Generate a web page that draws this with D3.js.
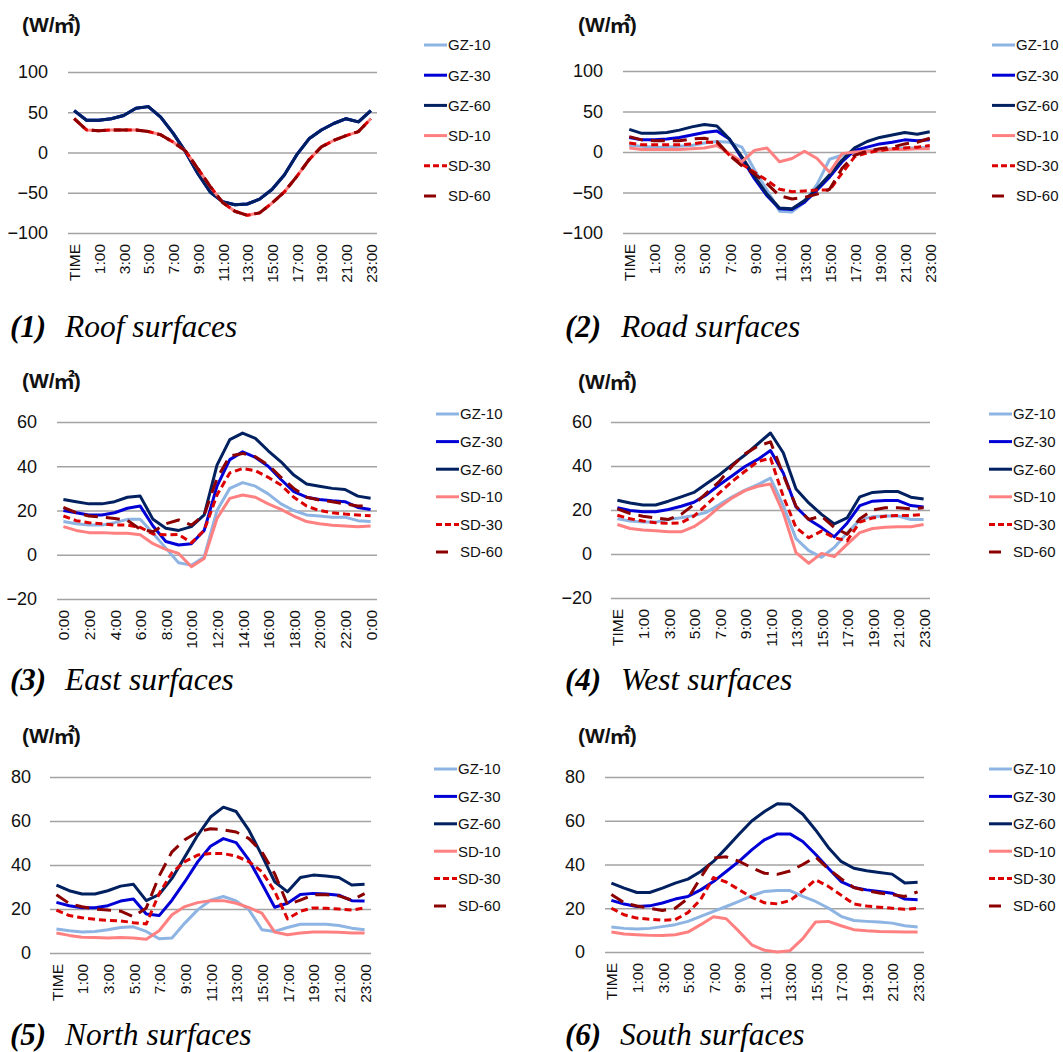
<!DOCTYPE html>
<html>
<head>
<meta charset="utf-8">
<script src="https://cdn.jsdelivr.net/npm/d3@7/dist/d3.min.js"></script>
<style>
  body { margin: 0; background: #fff; }
  svg { display: block; }
</style>
</head>
<body>
<div id="chart"></div>
<script>
// series names, in the order Excel drew them (later ones on top)
const seriesNames = ["GZ-10", "GZ-30", "GZ-60", "SD-10", "SD-30", "SD-60"];

// category labels (25 points, every other one is shown)
const hourLabels = ["TIME", "0:00", "1:00", "2:00", "3:00", "4:00", "5:00", "6:00", "7:00", "8:00",
  "9:00", "10:00", "11:00", "12:00", "13:00", "14:00", "15:00", "16:00", "17:00", "18:00",
  "19:00", "20:00", "21:00", "22:00", "23:00"];
const eastHourLabels = ["0:00", "1:00", "2:00", "3:00", "4:00", "5:00", "6:00", "7:00", "8:00", "9:00",
  "10:00", "11:00", "12:00", "13:00", "14:00", "15:00", "16:00", "17:00", "18:00", "19:00",
  "20:00", "21:00", "22:00", "23:00", "0:00"];

// (1) roof: the three GZ series coincide, as do the three SD series
const roofGZ = [52, 40, 40, 42, 46, 55, 57, 44, 24, 1, -26, -49, -61, -65, -64, -58, -46, -28, -3, 17, 28, 36, 42, 38, 52];
const roofSD = [42, 28, 27, 28, 28, 28, 26, 22, 13, 2, -20, -42, -62, -73, -78, -75, -63, -49, -30, -9, 7, 15, 21, 26, 42];

// (2) road
const roadGZ10 = [8, 7, 6, 6, 7, 8, 11, 13, 12, 6, -22, -47, -73, -74, -62, -40, -9, -4, -1, 2, 3, 4, 5, 5, 6];
const roadGZ30 = [18, 15, 15, 16, 18, 21, 24, 26, 16, -8, -33, -54, -70, -71, -62, -47, -31, -12, 2, 6, 10, 12, 15, 14, 15];
const roadGZ60 = [28, 23, 23, 24, 27, 31, 34, 32, 16, -6, -30, -52, -69, -70, -60, -45, -28, -10, 5, 13, 18, 21, 24, 22, 25];
const roadSD10 = [5, 3, 3, 3, 3, 4, 5, 8, -2, -12, 2, 5, -12, -8, 1, -8, -25, -2, 0, 1, 2, 3, 3, 4, 4];
const roadSD30 = [11, 9, 9, 9, 9, 10, 12, 12, -4, -15, -25, -35, -46, -49, -48, -47, -47, -26, -6, -1, 2, 4, 5, 6, 8];
const roadSD60 = [19, 15, 14, 14, 14, 16, 17, 13, -4, -17, -27, -39, -54, -58, -56, -52, -46, -20, -4, 1, 4, 6, 10, 12, 17];

// (3) east
const eastGZ10 = [15, 14, 13.4, 13.4, 14.5, 16, 16, 9.7, 3, -3.6, -4.7, -1, 20, 30, 32.6, 31, 27.5, 23, 20, 18, 17.5, 17, 17, 15.4, 15];
const eastGZ30 = [20, 19, 18, 18, 19, 21, 22, 13, 6, 4.4, 5, 11, 31, 43, 46.5, 44, 40, 34, 28.5, 26, 25, 24.4, 24, 21.4, 20.5];
const eastGZ60 = [25, 24, 23, 23, 24, 26, 26.5, 16, 12, 11, 12.7, 18, 40.5, 52, 55, 52.6, 47, 42, 36, 32, 31, 30, 29.5, 26.5, 25.5];
const eastSD10 = [12.7, 11, 10, 10, 9.7, 9.7, 9, 5, 2.4, 0.6, -5.4, -1.7, 16.4, 25.5, 27, 26, 23, 20.5, 17.5, 15, 14, 13.3, 13, 12.7, 13];
const eastSD30 = [17.5, 15.4, 14.5, 14, 13.4, 13.4, 12.4, 9.4, 9, 9.2, 5.4, 11, 27, 37, 39, 38, 35, 31.5, 26, 22, 20, 19, 18.4, 18, 17.6];
const eastSD60 = [21.4, 19, 17.5, 17, 16.4, 15.5, 11.5, 10.4, 14, 15.7, 13.4, 18, 34.5, 44.6, 45.8, 44.3, 40.6, 35, 30, 26, 24.7, 24, 23, 22, 22];

// (4) west
const westGZ10 = [16, 15, 14.5, 14.5, 15.7, 16.5, 17.5, 19, 22.5, 26, 29, 31.5, 34.5, 22, 7, 1.5, -1.5, 3, 9.5, 15.5, 17, 17.3, 17.3, 15.7, 15.7];
const westGZ30 = [21, 19.8, 19.2, 19.2, 20.2, 21.7, 23.5, 27, 31.5, 35.6, 39.8, 43, 47, 36.8, 21.4, 15.7, 12, 7.8, 14, 22, 24, 24.3, 24.3, 22, 21.4];
const westGZ60 = [24.4, 23.2, 22.3, 22.3, 24, 26, 28, 32, 36, 40.6, 45, 50, 55, 46, 29.5, 23.2, 18, 13.7, 16.4, 26, 28, 28.4, 28.4, 25.8, 25];
const westSD10 = [13.4, 11.6, 10.9, 10.6, 10.1, 10.1, 12.4, 16.4, 21.4, 25.5, 28.8, 30.8, 31.8, 18.7, 0.6, -4.2, 0.3, -1.2, 4.4, 9.7, 11.6, 12.2, 12.4, 12.4, 13.4];
const westSD30 = [17.6, 16, 15, 14.2, 13.9, 14.2, 17.2, 22.5, 27.8, 33, 37.6, 42, 43.6, 26.2, 12, 7.4, 10.4, 7.4, 6, 14.5, 16.4, 17.2, 17.5, 17.5, 18];
const westSD60 = [20.5, 18.4, 17.2, 16.4, 15.7, 18, 22.5, 27.8, 33, 40, 45.5, 49, 51, 36, 21.7, 15.7, 17.2, 12, 9, 16, 20, 21, 21, 20.5, 21];

// (5) north
const northGZ10 = [10.9, 10.1, 9.5, 9.8, 10.6, 11.6, 11.9, 9.8, 6.5, 6.8, 13.6, 19.6, 24, 25.7, 23.7, 19.6, 10.6, 9.8, 11.6, 13.1, 13.1, 13.1, 12.5, 11.3, 10.6];
const northGZ30 = [23, 21.5, 20.6, 20.6, 21.5, 23.6, 24.5, 17.7, 17, 24, 32.4, 41.4, 48.5, 52, 50.2, 42.2, 31.6, 20.8, 22.6, 26.6, 27.1, 26.8, 26.3, 23.8, 23.6];
const northGZ60 = [30.9, 28.3, 26.8, 26.8, 28.3, 30.4, 31.2, 23.8, 26.6, 33.9, 43.7, 53.5, 61.8, 66.3, 64.3, 55.7, 44.4, 32.4, 27.8, 34.3, 35.4, 35, 34.3, 30.9, 31.3];
const northSD10 = [9.1, 8, 7.2, 7.1, 6.8, 7.1, 6.8, 6.3, 10.1, 17.4, 21.1, 22.9, 23.8, 23.8, 22.6, 20.6, 18.1, 9.5, 8.3, 9.1, 9.5, 9.5, 9.4, 9.1, 9.1];
const northSD30 = [19.5, 17, 16, 15.3, 14.8, 14.6, 13.8, 13.2, 27, 36.5, 41.5, 44.5, 45.2, 45.2, 44, 41.5, 37, 28, 15.5, 19, 20.5, 20.3, 20, 19.5, 20.5];
const northSD60 = [26.5, 22.5, 21, 20, 19.5, 19, 16.5, 20.5, 35, 46, 51.5, 55, 56.5, 56, 55, 52, 46, 36, 22, 24, 26.5, 26.5, 26, 24, 27];

// (6) south
const southGZ10 = [11.4, 10.8, 10.5, 10.8, 11.6, 12.5, 14, 16.3, 18.6, 20.8, 23.1, 25.7, 27.7, 28.1, 28.1, 25.4, 23.1, 20.1, 16.3, 14.4, 14, 13.7, 13.2, 12, 11.4];
const southGZ30 = [23.6, 21.9, 20.8, 21.1, 22.4, 24.2, 25.4, 28.4, 32.2, 36.8, 41.4, 46.7, 51.3, 54, 54, 50.5, 44.7, 38.3, 32.2, 29.5, 28.4, 27.7, 26.9, 24.2, 23.9];
const southGZ60 = [31.5, 29.2, 27.2, 27.2, 29.2, 31.5, 33.3, 36.8, 41.4, 47.5, 53.8, 59.9, 64.2, 67.8, 67.5, 63, 55.8, 47.8, 41.4, 38.3, 37.1, 36.3, 35.6, 31.5, 31.9];
const southSD10 = [9.1, 8.2, 7.9, 7.6, 7.5, 7.9, 9.1, 12.5, 16.1, 15.2, 9.4, 3.3, 0.8, 0, 0.6, 6.1, 13.7, 14, 12, 10.2, 9.7, 9.4, 9.3, 9.1, 9.1];
const southSD30 = [20, 17, 15.5, 15, 14.5, 14.8, 18, 24, 34, 32, 28.5, 25, 22.5, 22, 23.5, 28, 33, 30, 26, 22, 21, 20.5, 20, 19.5, 20];
const southSD60 = [26.3, 22.5, 21, 20, 19, 20, 24.5, 34, 43, 43.5, 41.5, 38.5, 36, 35.5, 37, 40, 43.5, 38, 33.5, 29.5, 28, 27, 26.2, 25.4, 27.5];

// y ticks
const ticksRoad = [-100, -50, 0, 50, 100];
const ticksWall = [-20, 0, 20, 40, 60];
const ticksNS = [0, 20, 40, 60, 80];

// legendDash: how the short legend sample is dashed
const lineStyle = {
  "GZ-10": { color: "#8db4e2", dash: null, legendDash: null },
  "GZ-30": { color: "#0000d6", dash: null, legendDash: null },
  "GZ-60": { color: "#002060", dash: null, legendDash: null },
  "SD-10": { color: "#ff8080", dash: null, legendDash: null },
  "SD-30": { color: "#dc0000", dash: "7,4", legendDash: "6,3" },
  "SD-60": { color: "#8c0000", dash: "14,8", legendDash: "12,20" }
};

const panels = [
  { num: "(1)", title: "Roof surfaces", labels: hourLabels, ticks: ticksRoad,
    values: [roofGZ, roofGZ, roofGZ, roofSD, roofSD, roofSD],
    box: { left: 68, right: 377, top: 72, bottom: 233 }, tickX: 48, unit: [22, 32],
    legend: [424, 45, 30.2], caption: [10, 65, 337] },
  { num: "(2)", title: "Road surfaces", labels: hourLabels, ticks: ticksRoad,
    values: [roadGZ10, roadGZ30, roadGZ60, roadSD10, roadSD30, roadSD60],
    box: { left: 623, right: 936, top: 71, bottom: 233 }, tickX: 603, unit: [578, 32],
    legend: [992, 45, 30.2], caption: [565, 621, 337] },
  { num: "(3)", title: "East surfaces", labels: eastHourLabels, ticks: ticksWall,
    values: [eastGZ10, eastGZ30, eastGZ60, eastSD10, eastSD30, eastSD60],
    box: { left: 57, right: 377, top: 422, bottom: 599 }, tickX: 37, unit: [22, 388],
    legend: [436, 414, 27.6], caption: [10, 65, 690] },
  { num: "(4)", title: "West surfaces", labels: hourLabels, ticks: ticksWall,
    values: [westGZ10, westGZ30, westGZ60, westSD10, westSD30, westSD60],
    box: { left: 611, right: 930, top: 422, bottom: 598 }, tickX: 592, unit: [578, 389],
    legend: [989, 414, 27.6], caption: [565, 621, 690] },
  { num: "(5)", title: "North surfaces", labels: hourLabels, ticks: ticksNS,
    values: [northGZ10, northGZ30, northGZ60, northSD10, northSD30, northSD60],
    box: { left: 50, right: 371, top: 777, bottom: 953 }, tickX: 31, unit: [22, 743],
    legend: [434, 769, 27.4], caption: [10, 65, 1045] },
  { num: "(6)", title: "South surfaces", labels: hourLabels, ticks: ticksNS,
    values: [southGZ10, southGZ30, southGZ60, southSD10, southSD30, southSD60],
    box: { left: 605, right: 924, top: 777, bottom: 952 }, tickX: 585, unit: [578, 743],
    legend: [989, 769, 27.4], caption: [565, 620, 1045] }
];

const width = 1063, height = 1052;
const sansFont = "'Liberation Sans', Arial, sans-serif";
const serifFont = "'Liberation Serif', 'Times New Roman', serif";

const svg = d3.select("#chart").append("svg")
  .attr("width", width)
  .attr("height", height);
svg.append("rect").attr("width", width).attr("height", height).attr("fill", "#fff");

function drawPanel(p) {
  const g = svg.append("g");
  const b = p.box;
  const x = d3.scalePoint()
    .domain(d3.range(p.labels.length))
    .range([b.left, b.right])
    .padding(0.5);
  const y = d3.scaleLinear()
    .domain(d3.extent(p.ticks))
    .range([b.bottom, b.top]);

  // gridlines
  g.append("g")
    .attr("transform", `translate(${b.left},0)`)
    .call(d3.axisLeft(y).tickValues(p.ticks).tickSize(-(b.right - b.left)).tickFormat(""))
    .call(a => a.select(".domain").remove())
    .call(a => a.selectAll("line").attr("stroke", "#a3a3a3").attr("stroke-width", 1.3));

  // y tick labels
  g.append("g")
    .attr("transform", `translate(${p.tickX},0)`)
    .call(d3.axisLeft(y).tickValues(p.ticks).tickSize(0).tickPadding(0))
    .call(a => a.select(".domain").remove())
    .call(a => a.selectAll("text")
      .attr("font-family", sansFont).attr("font-size", 18).attr("fill", "#111"));

  // x tick labels, rotated
  const shown = d3.range(0, p.labels.length, 2);
  g.append("g")
    .attr("transform", `translate(0,${b.bottom})`)
    .call(d3.axisBottom(x).tickValues(shown).tickSize(0).tickFormat(i => p.labels[i]))
    .call(a => a.select(".domain").remove())
    .call(a => a.selectAll("text")
      .attr("font-family", sansFont).attr("font-size", 15.5).attr("fill", "#111")
      .attr("transform", "rotate(-90)")
      .attr("text-anchor", "end")
      .attr("x", -11).attr("y", 0).attr("dy", "0.36em"));

  // lines
  const line = d3.line()
    .x((d, i) => x(i))
    .y(d => y(d));
  seriesNames.forEach((name, k) => {
    const s = lineStyle[name];
    g.append("path")
      .datum(p.values[k])
      .attr("fill", "none")
      .attr("stroke", s.color)
      .attr("stroke-width", 3)
      .attr("stroke-linejoin", "round")
      .attr("stroke-dasharray", s.dash)
      .attr("d", line);
  });

  // legend
  const [lx, ly, ldy] = p.legend;
  seriesNames.forEach((name, k) => {
    const s = lineStyle[name];
    const yy = ly + k * ldy;
    g.append("line")
      .attr("x1", lx).attr("x2", lx + 23)
      .attr("y1", yy).attr("y2", yy)
      .attr("stroke", s.color)
      .attr("stroke-width", 3)
      .attr("stroke-dasharray", s.legendDash);
    g.append("text")
      .attr("x", lx + 24).attr("y", yy)
      .attr("dy", "0.36em")
      .attr("font-family", sansFont).attr("font-size", 15).attr("fill", "#111")
      .text(name);
  });

  // unit label (W/㎡)
  const u = g.append("text")
    .attr("x", p.unit[0]).attr("y", p.unit[1])
    .attr("font-family", sansFont).attr("font-size", 21).attr("font-weight", "bold")
    .attr("fill", "#111");
  u.append("tspan").text("(W/");
  u.append("tspan").attr("font-family", "'Noto Sans CJK SC', sans-serif").attr("dx", -1).text("㎡");
  u.append("tspan").attr("dx", -1).text(")");

  // caption
  const [cx, tx, cy] = p.caption;
  g.append("text")
    .attr("x", cx).attr("y", cy)
    .attr("font-family", serifFont).attr("font-size", 31)
    .attr("font-style", "italic").attr("font-weight", "bold")
    .text(p.num);
  g.append("text")
    .attr("x", tx).attr("y", cy)
    .attr("font-family", serifFont).attr("font-size", 31.5)
    .attr("font-style", "italic")
    .text(p.title);
}

panels.forEach(drawPanel);
</script>
</body>
</html>
